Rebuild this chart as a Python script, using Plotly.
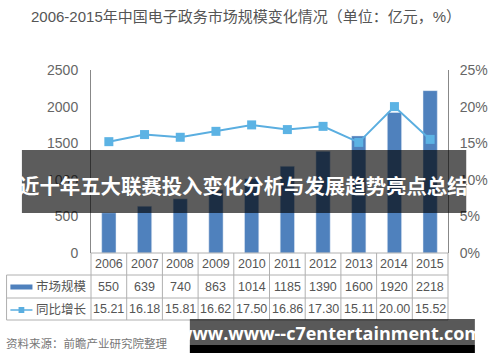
import plotly.graph_objects as go

years = ["2006", "2007", "2008", "2009", "2010", "2011", "2012", "2013", "2014", "2015"]
market_size = [550, 639, 740, 863, 1014, 1185, 1390, 1600, 1920, 2218]
growth = [15.21, 16.18, 15.81, 16.62, 17.50, 16.86, 17.30, 15.11, 20.00, 15.52]
size_labels = ["550", "639", "740", "863", "1014", "1185", "1390", "1600", "1920", "2218"]
growth_labels = ["15.21", "16.18", "15.81", "16.62", "17.50", "16.86", "17.30", "15.11", "20.00", "15.52"]
series_names = ["市场规模", "同比增长"]
title_text = "2006-2015年中国电子政务市场规模变化情况（单位：亿元，%）"
source_text = "资料来源：前瞻产业研究院整理"
banner_text = "近十年五大联赛投入变化分析与发展趋势亮点总结"
watermark_text = "www.www--c7entertainment.com"

W, H = 500, 362
L, R, T, B = 91, 463, 70, 253
BAR_C = "#4f81bd"
LINE_C = "#5aaee0"
GRID_C = "#b0b0b0"
TXT_C = "#555555"
FONT = "Liberation Sans, Noto Sans CJK SC, sans-serif"


def px(x):
    return (x - L) / (R - L)


def py(y):
    return (B - y) / (B - T)


fig = go.Figure()
fig.add_trace(go.Bar(x=years, y=market_size, name=series_names[0], marker_color=BAR_C,
                     width=0.4, yaxis="y"))
fig.add_trace(go.Scatter(x=years, y=growth, name=series_names[1], mode="lines+markers",
                         line=dict(color=LINE_C, width=2),
                         marker=dict(symbol="square", size=9, color="#5cb3e4"),
                         yaxis="y2"))

shapes = []
annotations = []

# table geometry
rows = [253, 275, 298, 320]
n = len(years)
shapes.append(dict(type="line", xref="paper", yref="paper", x0=0, x1=1, y0=py(rows[0]), y1=py(rows[0]),
                   line=dict(color=GRID_C, width=1)))
for r in rows[1:]:
    shapes.append(dict(type="line", xref="paper", yref="paper", x0=px(3), x1=1, y0=py(r), y1=py(r),
                       line=dict(color=GRID_C, width=1)))
for i in range(n + 1):
    shapes.append(dict(type="line", xref="paper", yref="paper", x0=i / n, x1=i / n,
                       y0=py(rows[0]), y1=py(rows[3]), line=dict(color=GRID_C, width=1)))
shapes.append(dict(type="line", xref="paper", yref="paper", x0=px(3), x1=px(3),
                   y0=py(rows[1]), y1=py(rows[3]), line=dict(color=GRID_C, width=1)))

# legend symbols inside table
shapes.append(dict(type="line", xref="paper", yref="paper", x0=px(7), x1=px(30),
                   y0=py(287), y1=py(287), line=dict(color=BAR_C, width=5)))
shapes.append(dict(type="line", xref="paper", yref="paper", x0=px(7), x1=px(30),
                   y0=py(310), y1=py(310), line=dict(color=LINE_C, width=1.5)))
shapes.append(dict(type="rect", xref="paper", yref="paper", x0=px(15.5), x1=px(21.5),
                   y0=py(313), y1=py(307), fillcolor=LINE_C, line=dict(width=0)))

row_centers = [(rows[i] + rows[i + 1]) / 2 for i in range(3)]
for i, yv in enumerate(years):
    for txt, rc in zip([yv, size_labels[i], growth_labels[i]], row_centers):
        annotations.append(dict(x=(i + 0.5) / n, xref="paper", y=py(rc), yref="paper", text=txt,
                                showarrow=False, font=dict(family=FONT, size=12.5, color=TXT_C),
                                xanchor="center", yanchor="middle"))
for name, rc in zip(series_names, row_centers[1:]):
    annotations.append(dict(x=px(32), xref="paper", y=py(rc), yref="paper", text=name, showarrow=False,
                            font=dict(family=FONT, size=12.5, color=TXT_C),
                            xanchor="left", yanchor="middle"))

# title and source
annotations.append(dict(x=px(26), xref="paper", y=py(17), yref="paper", text=title_text, showarrow=False,
                        font=dict(family=FONT, size=15, color=TXT_C), xanchor="left", yanchor="middle"))
annotations.append(dict(x=px(0), xref="paper", y=py(343), yref="paper", text=source_text, showarrow=False,
                        font=dict(family=FONT, size=11.5, color="#777777"), xanchor="left", yanchor="middle"))

# overlay banner
shapes.append(dict(type="rect", xref="paper", yref="paper", x0=px(19), x1=px(482), y0=py(213), y1=py(150),
                   fillcolor="rgba(0,0,0,0.64)", line=dict(width=0), layer="above"))
annotations.append(dict(x=px(250), xref="paper", y=py(185), yref="paper", text="<b>" + banner_text + "</b>",
                        showarrow=False, font=dict(family="Noto Sans CJK SC", size=20.4, color="white"),
                        xanchor="center", yanchor="middle"))

# watermark box
shapes.append(dict(type="rect", xref="paper", yref="paper", x0=px(194), x1=px(491), y0=py(345), y1=py(319),
                   fillcolor="rgba(0,0,0,0.65)", line=dict(width=0), layer="above"))
shapes.append(dict(type="rect", xref="paper", yref="paper", x0=px(194), x1=px(491), y0=py(353), y1=py(345),
                   fillcolor="#000000", line=dict(width=0), layer="above"))
annotations.append(dict(x=px(340), xref="paper", y=py(333), yref="paper", text="<b>" + watermark_text + "</b>",
                        showarrow=False, font=dict(family="Open Sans", size=18, color="white"),
                        xanchor="center", yanchor="middle"))

fig.update_layout(
    width=W, height=H,
    margin=dict(l=L, r=W - R, t=T, b=H - B, pad=0),
    paper_bgcolor="white", plot_bgcolor="white",
    showlegend=False,
    font=dict(family=FONT, color=TXT_C),
    xaxis=dict(type="category", range=[-0.5, n - 0.5], showticklabels=False, showgrid=False,
               zeroline=False, showline=False, ticks=""),
    yaxis=dict(range=[0, 2500], dtick=500, showgrid=False, zeroline=False, showline=True,
               linecolor="#888888", linewidth=1, ticks="", ticklabelstandoff=9,
               tickfont=dict(family=FONT, size=14, color="#666666")),
    yaxis2=dict(range=[0, 25], dtick=5, ticksuffix="%", overlaying="y", side="right", showgrid=False,
                zeroline=False, showline=True, linecolor="#888888", linewidth=1, ticks="",
                ticklabelstandoff=8, tickfont=dict(family=FONT, size=14, color="#666666")),
    shapes=shapes,
    annotations=annotations,
)

fig.write_html("out.html", config={"displayModeBar": False},
               post_script="document.body.style.margin='0';")
